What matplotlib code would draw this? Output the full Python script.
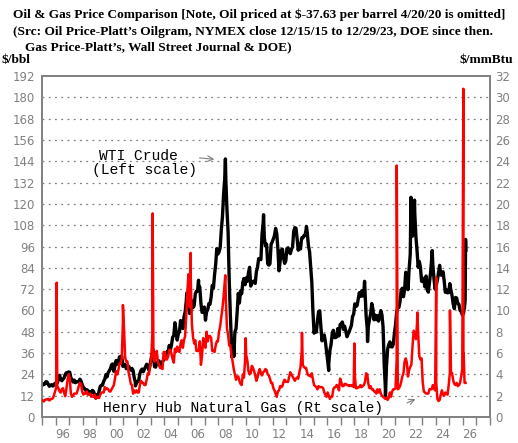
import matplotlib
matplotlib.use("Agg")
import matplotlib.pyplot as plt
import numpy as np

# WTI crude, $/bbl, monthly (Jan..Dec), 1995 -> 2026
wti_monthly = [
    18.0, 18.6, 18.5, 19.9, 19.7, 18.4, 17.3, 17.9, 18.2, 17.4, 18.0, 19.0,   # 1995
    18.9, 19.1, 21.3, 23.5, 21.2, 20.4, 21.3, 21.9, 23.9, 24.9, 23.7, 25.4,   # 1996
    25.2, 22.2, 20.9, 19.7, 20.8, 19.3, 19.7, 19.9, 19.8, 21.3, 20.2, 18.3,   # 1997
    16.7, 16.1, 15.0, 15.4, 14.9, 13.7, 14.1, 13.4, 15.0, 14.4, 12.9, 11.3,   # 1998
    12.5, 12.0, 14.7, 17.3, 17.8, 17.9, 20.1, 21.3, 23.9, 22.6, 25.0, 26.1,   # 1999
    27.2, 29.4, 29.9, 25.7, 28.8, 31.8, 29.7, 31.3, 33.9, 33.1, 34.4, 28.5,   # 2000
    29.6, 29.6, 27.2, 27.4, 28.6, 27.6, 26.4, 27.4, 26.2, 22.2, 19.6, 19.3,   # 2001
    19.7, 20.7, 24.4, 26.3, 27.0, 25.5, 26.9, 28.4, 29.7, 28.9, 26.3, 29.4,   # 2002
    32.9, 35.9, 33.6, 28.3, 28.1, 30.7, 30.8, 31.6, 28.3, 30.3, 31.1, 32.1,   # 2003
    34.3, 34.7, 36.7, 36.7, 40.3, 38.0, 40.7, 44.9, 45.9, 53.1, 48.5, 43.3,   # 2004
    46.8, 48.0, 54.3, 53.0, 49.8, 56.3, 59.0, 65.0, 65.6, 62.4, 58.3, 59.4,   # 2005
    65.5, 61.6, 62.7, 69.4, 70.8, 70.9, 74.4, 73.0, 63.8, 58.9, 59.1, 61.9,   # 2006
    54.5, 59.3, 60.4, 63.9, 63.5, 67.5, 74.1, 72.4, 79.9, 85.8, 94.8, 91.7,   # 2007
    93.0, 95.4, 105.5, 112.6, 125.4, 133.9, 133.4, 116.7, 104.1, 76.6, 57.3, 41.1,  # 2008
    41.7, 39.1, 47.9, 49.7, 59.0, 69.6, 64.2, 71.0, 69.4, 75.7, 78.0, 74.5,   # 2009
    78.3, 76.4, 81.2, 84.3, 73.7, 75.3, 76.3, 76.6, 75.2, 81.9, 84.3, 89.2,   # 2010
    89.2, 88.6, 102.9, 109.5, 100.9, 96.3, 97.3, 86.3, 85.5, 86.3, 97.2, 98.6,  # 2011
    100.3, 102.2, 106.2, 103.3, 94.7, 82.3, 87.9, 94.1, 94.5, 89.5, 86.5, 87.9,  # 2012
    94.8, 95.3, 92.9, 92.0, 94.5, 95.8, 104.6, 106.6, 106.3, 100.5, 93.9, 97.6,  # 2013
    94.6, 100.8, 100.8, 102.1, 102.2, 105.8, 103.6, 96.5, 93.2, 84.4, 75.8, 59.3,  # 2014
    47.2, 50.6, 47.8, 54.5, 59.3, 59.8, 50.9, 42.9, 45.5, 46.2, 42.4, 37.2,   # 2015
    31.7, 30.3, 37.5, 40.8, 46.7, 48.8, 44.7, 44.7, 45.2, 49.8, 45.7, 52.0,   # 2016
    52.5, 53.5, 49.3, 51.1, 48.5, 45.2, 46.6, 48.0, 49.8, 51.6, 56.6, 57.9,   # 2017
    63.7, 62.2, 62.7, 66.3, 70.0, 67.9, 71.0, 68.1, 70.2, 70.8, 57.0, 49.5,   # 2018
    51.4, 55.0, 58.2, 63.9, 60.8, 54.7, 57.4, 54.8, 57.0, 54.0, 57.0, 59.9,   # 2019
    57.5, 50.5, 29.2, 16.6, 28.6, 38.3, 40.7, 42.3, 39.6, 39.4, 41.0, 47.0,   # 2020
    52.0, 59.0, 62.3, 61.7, 65.2, 71.4, 72.5, 67.7, 71.6, 81.5, 79.2, 71.7,   # 2021
    83.2, 91.6, 108.5, 101.8, 109.6, 114.8, 101.6, 93.7, 84.3, 87.6, 84.4, 76.4,  # 2022
    78.1, 76.8, 73.3, 79.4, 71.6, 70.3, 76.1, 81.4, 89.4, 85.6, 77.7, 71.9,   # 2023
    74.2, 77.2, 81.3, 85.4, 80.0, 79.8, 81.8, 76.7, 70.2, 71.6, 69.9, 70.1,   # 2024
    75.1, 71.2, 68.2, 63.5, 61.0, 67.3, 67.0, 64.0, 63.5, 60.0, 59.5, 57.5,   # 2025
    58.0, 62.0,                                                               # 2026
]
# daily highs / lows visible on the chart
wti_extra_dates = [1998.96, 2001.88, 2003.19, 2005.66, 2006.53, 2008.51, 2008.97,
                   2009.13, 2011.32, 2014.48, 2016.12, 2018.76, 2018.98, 2020.30,
                   2022.18, 2022.44, 2023.74, 2026.17, 2026.20, 2026.22]
wti_extra_values = [10.8, 17.5, 37.8, 69.8, 77.0, 145.3, 33.9,
                    34.0, 113.9, 107.3, 26.2, 76.4, 42.5, 12.0,
                    123.7, 122.1, 93.7, 66.0, 100.0, 94.0]

# Henry Hub natural gas, $/mmBtu, monthly, 1995 -> 2026
gas_monthly = [
    1.55, 1.45, 1.60, 1.65, 1.65, 1.70, 1.55, 1.65, 1.70, 1.75, 2.00, 2.40,   # 1995
    2.70, 2.90, 2.70, 2.40, 2.30, 2.60, 2.70, 2.30, 1.95, 2.60, 3.40, 4.00,   # 1996
    3.70, 2.20, 1.90, 2.00, 2.20, 2.20, 2.20, 2.50, 2.90, 3.20, 3.10, 2.40,   # 1997
    2.10, 2.20, 2.20, 2.40, 2.10, 2.10, 2.20, 1.90, 2.00, 1.90, 2.10, 1.70,   # 1998
    1.90, 1.80, 1.80, 2.10, 2.30, 2.30, 2.30, 2.80, 2.60, 2.70, 2.60, 2.40,   # 1999
    2.40, 2.60, 2.80, 3.00, 3.60, 4.30, 4.00, 4.40, 5.00, 5.00, 5.50, 8.90,   # 2000
    8.20, 5.60, 5.20, 5.20, 4.20, 3.70, 3.10, 3.00, 2.20, 2.50, 2.30, 2.50,   # 2001
    2.30, 2.30, 3.00, 3.40, 3.20, 3.20, 3.00, 3.00, 3.50, 4.10, 4.00, 4.70,   # 2002
    5.40, 7.70, 5.90, 5.20, 5.80, 6.20, 5.10, 4.90, 4.60, 4.60, 4.50, 6.10,   # 2003
    6.10, 5.40, 5.40, 5.70, 6.30, 6.30, 5.90, 5.40, 5.10, 6.40, 6.10, 6.60,   # 2004
    6.20, 6.10, 6.90, 7.20, 6.50, 7.20, 7.60, 9.50, 11.80, 13.40, 10.30, 13.00,  # 2005
    8.70, 7.50, 6.90, 7.20, 6.20, 6.20, 6.20, 7.10, 4.90, 5.80, 7.40, 6.70,   # 2006
    6.50, 8.00, 7.10, 7.60, 7.60, 7.40, 6.20, 6.20, 6.10, 6.70, 7.10, 7.10,   # 2007
    8.00, 8.50, 9.40, 10.20, 11.30, 12.70, 11.10, 8.30, 7.70, 6.70, 6.70, 5.80,  # 2008
    5.20, 4.50, 4.00, 3.50, 3.80, 3.80, 3.40, 3.10, 3.00, 4.00, 3.70, 5.30,   # 2009
    5.80, 5.30, 4.30, 4.00, 4.10, 4.80, 4.60, 4.30, 3.90, 3.40, 3.70, 4.20,   # 2010
    4.50, 4.10, 3.90, 4.20, 4.30, 4.50, 4.40, 4.00, 3.90, 3.60, 3.20, 3.20,   # 2011
    2.70, 2.50, 2.20, 1.90, 2.40, 2.50, 2.90, 2.80, 2.90, 3.30, 3.50, 3.30,   # 2012
    3.30, 3.30, 3.80, 4.20, 4.00, 3.80, 3.60, 3.40, 3.60, 3.70, 3.60, 4.20,   # 2013
    4.70, 6.00, 4.90, 4.70, 4.60, 4.60, 4.10, 3.90, 3.90, 3.80, 4.10, 3.50,   # 2014
    3.00, 2.90, 2.80, 2.60, 2.90, 2.80, 2.80, 2.80, 2.70, 2.30, 2.10, 1.90,   # 2015
    2.30, 2.00, 1.70, 1.90, 1.90, 2.60, 2.80, 2.80, 3.00, 2.90, 2.50, 3.60,   # 2016
    3.30, 2.90, 2.90, 3.10, 3.10, 3.00, 3.00, 2.90, 3.00, 2.90, 3.00, 2.80,   # 2017
    3.90, 2.70, 2.70, 2.80, 2.80, 3.00, 2.80, 2.90, 3.00, 3.30, 4.10, 4.00,   # 2018
    3.10, 2.70, 2.90, 2.60, 2.60, 2.40, 2.40, 2.20, 2.60, 2.30, 2.60, 2.20,   # 2019
    2.00, 1.90, 1.80, 1.70, 1.80, 1.60, 1.80, 2.30, 1.90, 2.40, 2.60, 2.60,   # 2020
    2.70, 5.40, 2.60, 2.70, 2.90, 3.30, 3.80, 4.10, 5.20, 5.50, 5.10, 3.80,   # 2021
    4.40, 4.70, 4.90, 6.60, 8.10, 7.70, 7.30, 8.80, 7.90, 5.70, 5.40, 5.50,   # 2022
    3.30, 2.40, 2.30, 2.20, 2.20, 2.20, 2.60, 2.60, 2.60, 3.00, 2.70, 2.50,   # 2023
    3.20, 1.70, 1.50, 1.60, 2.10, 2.50, 2.10, 2.00, 2.30, 2.20, 2.10, 3.00,   # 2024
    4.10, 4.20, 4.10, 3.40, 3.10, 3.00, 3.20, 2.90, 2.97, 3.20, 3.80, 4.50,   # 2025
    5.30, 3.20,                                                               # 2026
]
# daily spikes visible on the chart
gas_extra_dates = [1996.08, 2000.96, 2003.15, 2005.95, 2008.50, 2010.00, 2014.15,
                   2018.01, 2021.13, 2022.65, 2024.04, 2025.05, 2026.04, 2026.06,
                   2026.20]
gas_extra_values = [12.6, 10.5, 19.1, 15.4, 13.3, 7.4, 7.9,
                    6.9, 23.6, 9.8, 13.1, 10.0, 30.8, 6.0,
                    3.2]

year_labels = ["96", "98", "00", "02", "04", "06", "08", "10", "12", "14", "16",
               "18", "20", "22", "24", "26"]


def build(monthly, extra_dates, extra_values):
    d = 1995 + (np.arange(len(monthly)) + 0.5) / 12
    d = np.concatenate([d, extra_dates])
    v = np.concatenate([monthly, extra_values])
    order = np.argsort(d)
    return d[order], v[order]


wti_d, wti_v = build(wti_monthly, wti_extra_dates, wti_extra_values)
gas_d, gas_v = build(gas_monthly, gas_extra_dates, gas_extra_values)

GRAY = "#808080"
serif = "Liberation Serif"
mono = "Liberation Mono"

fig = plt.figure(figsize=(5.18, 4.43), dpi=100)
ax = fig.add_axes([42 / 518, 1 - 417 / 443, 448 / 518, 341 / 443])
ax2 = ax.twinx()

ax.plot(wti_d, wti_v, color="black", lw=2.4, zorder=3)
ax2.plot(gas_d, gas_v, color="#ff0000", lw=1.8, zorder=4)

ax.set_xlim(1995, 2028)
ax.set_ylim(0, 192)
ax2.set_ylim(0, 32)

ax.set_yticks(np.arange(0, 193, 12))
ax2.set_yticks(np.arange(0, 33, 2))
for y in range(12, 192, 12):
    ax.axhline(y, color=GRAY, lw=0.9, ls=(0, (1.5, 3.5)), zorder=1)

ax.set_xticks(np.arange(1995, 2029, 1))
ax.set_xticklabels([])
ax.set_xticks(np.arange(1996.5, 2027, 2), minor=True)
ax.set_xticklabels(year_labels, minor=True)
ax.tick_params(axis="x", which="major", length=6, width=1, color=GRAY, direction="out")
ax.tick_params(axis="x", which="minor", length=0, pad=8, labelsize=8.5, labelcolor=GRAY)
ax.tick_params(axis="y", length=0, pad=5, labelsize=8.5, labelcolor=GRAY)
ax2.tick_params(axis="y", length=0, pad=4, labelsize=8.5, labelcolor=GRAY)

for a in (ax, ax2):
    for s in a.spines.values():
        s.set_color(GRAY)
        s.set_linewidth(1.2)

ax.set_zorder(ax2.get_zorder() - 1)
ax2.patch.set_visible(False)

# annotations
ax.text(1999.2, 147, "WTI Crude", family=mono, fontsize=10.5, ha="left", va="center")
ax.text(1998.7, 139, "(Left scale)", family=mono, fontsize=10.5, ha="left", va="center")
ax.annotate("", xy=(2007.9, 145), xytext=(2006.4, 146),
            arrowprops=dict(arrowstyle="->", color=GRAY, lw=0.8))
ax.text(1999.5, 5, "Henry Hub Natural Gas (Rt scale)", family=mono, fontsize=10.5,
        ha="left", va="center")
ax.annotate("", xy=(2022.7, 10.7), xytext=(2021.7, 7.3),
            arrowprops=dict(arrowstyle="->", color=GRAY, lw=0.8))

# titles
W, H = 518, 443
fig.text(13 / W, 1 - 15 / H,
         "Oil & Gas Price Comparison [Note, Oil priced at \\$-37.63 per barrel 4/20/20 is omitted]",
         family=serif, weight="bold", fontsize=9.6, ha="left", va="center")
fig.text(13 / W, 1 - 32 / H,
         "(Src: Oil Price-Platt\u2019s Oilgram, NYMEX close 12/15/15 to 12/29/23, DOE since then.",
         family=serif, weight="bold", fontsize=9.6, ha="left", va="center")
fig.text(25 / W, 1 - 47 / H,
         "Gas Price-Platt\u2019s, Wall Street Journal & DOE)",
         family=serif, weight="bold", fontsize=9.6, ha="left", va="center")
fig.text(1 / W, 1 - 60 / H, "\\$/bbl", family=serif, weight="bold", fontsize=9.6,
         ha="left", va="center")
fig.text(513 / W, 1 - 60 / H, "\\$/mmBtu", family=serif, weight="bold", fontsize=9.6,
         ha="right", va="center")

fig.savefig("out.png", dpi=100)
